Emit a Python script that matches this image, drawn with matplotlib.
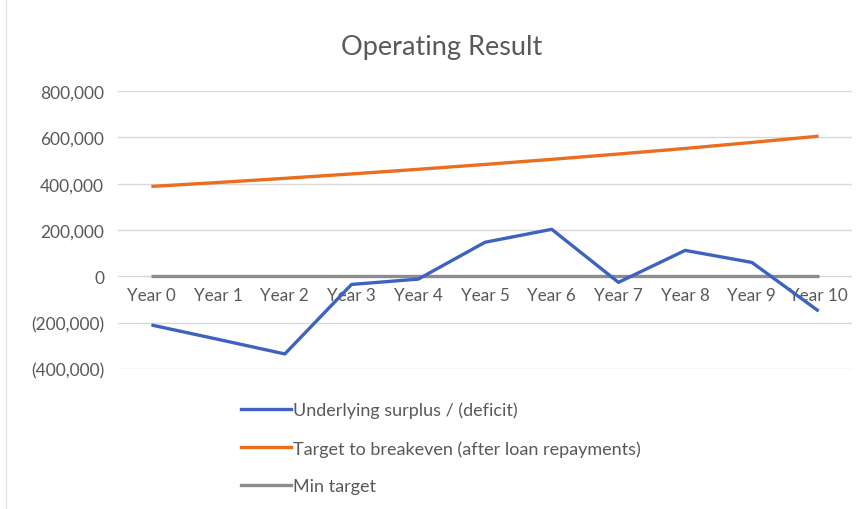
import numpy as np
import matplotlib.pyplot as plt
from matplotlib.ticker import FuncFormatter
from matplotlib.lines import Line2D

plt.rcParams['font.family'] = ['Lato', 'DejaVu Sans']

# Chart values
years = ['Year 0', 'Year 1', 'Year 2', 'Year 3', 'Year 4', 'Year 5',
         'Year 6', 'Year 7', 'Year 8', 'Year 9', 'Year 10']
surplus = [-210000, -272000, -335000, -35000, -12000, 147000,
           203000, -26000, 112000, 60000, -150000]
breakeven = [388000, 405000, 423000, 442000, 462000, 483000,
             505000, 528000, 552000, 578000, 605000]
min_target = [0] * len(years)

BLUE = '#3D62C0'
ORANGE = '#EB6E1F'
GREY = '#8C8C8C'
TEXT = '#595959'


def excel_fmt(v, pos):
    if v < 0:
        return f'({abs(v):,.0f})'
    return f'{v:,.0f}'


fig = plt.figure(figsize=(8.65, 5.1), dpi=100)
ax = fig.add_axes([118 / 865, 1 - 370 / 510, (852 - 118) / 865, (370 - 92) / 510])

x = np.arange(len(years))
ax.plot(x, min_target, color=GREY, lw=2.4, zorder=3, solid_capstyle='butt')
ax.plot(x, breakeven, color=ORANGE, lw=2.4, zorder=4, solid_capstyle='butt')
ax.plot(x, surplus, color=BLUE, lw=2.4, zorder=5, solid_capstyle='butt')

ax.set_xlim(-0.5, len(years) - 0.5)
ax.set_ylim(-400000, 800000)
ax.set_yticks(np.arange(-400000, 800001, 200000))
ax.yaxis.set_major_formatter(FuncFormatter(excel_fmt))
ax.grid(axis='y', color='#D9D9D9', lw=1)
ax.set_axisbelow(True)

ax.set_xticks(x)
ax.set_xticklabels(years)
ax.spines['bottom'].set_position(('data', 0))
for s in ax.spines.values():
    s.set_visible(False)
ax.tick_params(axis='x', length=0, pad=8, labelsize=12.3, labelcolor=TEXT)
ax.tick_params(axis='y', length=0, pad=10, labelsize=12.5, labelcolor=TEXT)

fig.text(442 / 865, 1 - 47 / 510, 'Operating Result', ha='center', va='center',
         fontsize=19.5, color=TEXT)

handles = [Line2D([], [], color=BLUE, lw=2.4),
           Line2D([], [], color=ORANGE, lw=2.4),
           Line2D([], [], color=GREY, lw=2.4)]
labels = ['Underlying surplus / (deficit)',
          'Target to breakeven (after loan repayments)',
          'Min target']
fig.legend(handles, labels, loc='center left',
           bbox_to_anchor=(225 / 865, 1 - 449 / 510), frameon=False,
           fontsize=13, labelcolor=TEXT, handlelength=2.75,
           handletextpad=0.1, labelspacing=1.2)

# light chart border on the left
fig.add_artist(Line2D([6 / 865, 6 / 865], [0, 1], color='#E3E3E3', lw=1))

fig.savefig('out.png', dpi=100, facecolor='white')
